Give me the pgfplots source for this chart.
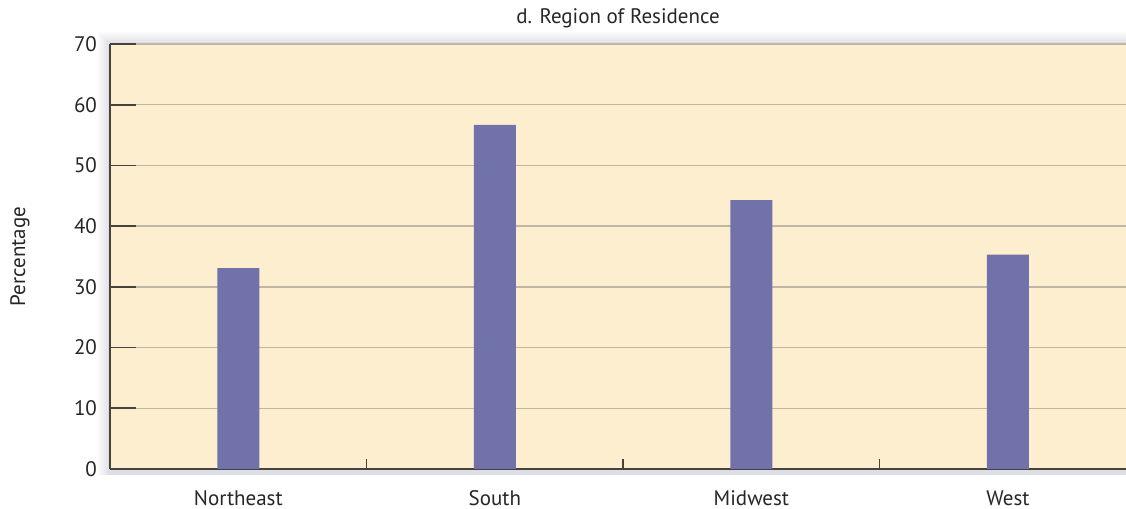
\documentclass[border=0pt]{standalone}
\usepackage{pgfplots}
\pgfplotsset{compat=1.18}
\usepackage{fontspec}
\setmainfont{PT Sans}
\definecolor{bgcream}{RGB}{253,238,207}
\definecolor{barcol}{RGB}{114,114,170}
\definecolor{gridcol}{RGB}{192,183,163}
\definecolor{axiscol}{RGB}{70,66,60}
\definecolor{shadowcol}{RGB}{150,150,175}
\newcommand{\lblfont}{\fontsize{10.5}{12}\selectfont}
\begin{document}
\begin{tikzpicture}
\useasboundingbox (0,0) rectangle (563pt,254.5pt);
% soft shadow around plot area
\foreach \i/\o in {1/0.05,2/0.05,3/0.05,4/0.06,5/0.07,6/0.08} {
  \fill[shadowcol, opacity=\o] (55pt-7pt+\i pt, 20pt-3pt) rectangle (563pt, 232.5pt+7pt-\i pt);
}
\begin{axis}[
  at={(55pt,20pt)}, anchor=south west,
  scale only axis,
  width=508pt, height=212.5pt,
  xmin=-0.5, xmax=3.46,
  ymin=0, ymax=70,
  axis x line*=bottom,
  axis y line*=left,
  ytick={0,10,...,70},
  xtick={0,1,2,3},
  xticklabels={Northeast,South,Midwest,West},
  x tick style={draw=none},
  extra x ticks={0.5,1.5,2.5},
  extra x tick labels={},
  extra x tick style={major tick length=5pt, tick align=inside, x tick style={draw=axiscol, line width=0.8pt}, grid=none},
  major tick length=13pt,
  y tick style={draw=axiscol, line width=0.8pt},
  tick align=inside,
  axis line style={draw=axiscol, line width=0.9pt, -},
  ymajorgrids,
  major grid style={draw=gridcol, line width=0.7pt},
  axis background/.style={fill=bgcream},
  ybar, bar width=21pt,
  font=\lblfont,
  tick label style={font=\lblfont, text=black!85},
  /pgf/number format/assume math mode=true,
  yticklabel style={xshift=-3pt},
  xticklabel style={inner sep=0pt, yshift=2.5pt},
  ylabel={Percentage},
  ylabel style={at={(axis description cs:-0.0886,0.5)}, anchor=center, font=\lblfont, text=black!85},
  title={d. Region of Residence},
  title style={at={(axis description cs:0.5,1)}, anchor=center, yshift=7pt, font=\lblfont, text=black!85},
  clip=false,
]
\addplot[fill=barcol, draw=none] coordinates {(0,33.1) (1,56.7) (2,44.3) (3,35.3)};
\end{axis}
\end{tikzpicture}
\end{document}
